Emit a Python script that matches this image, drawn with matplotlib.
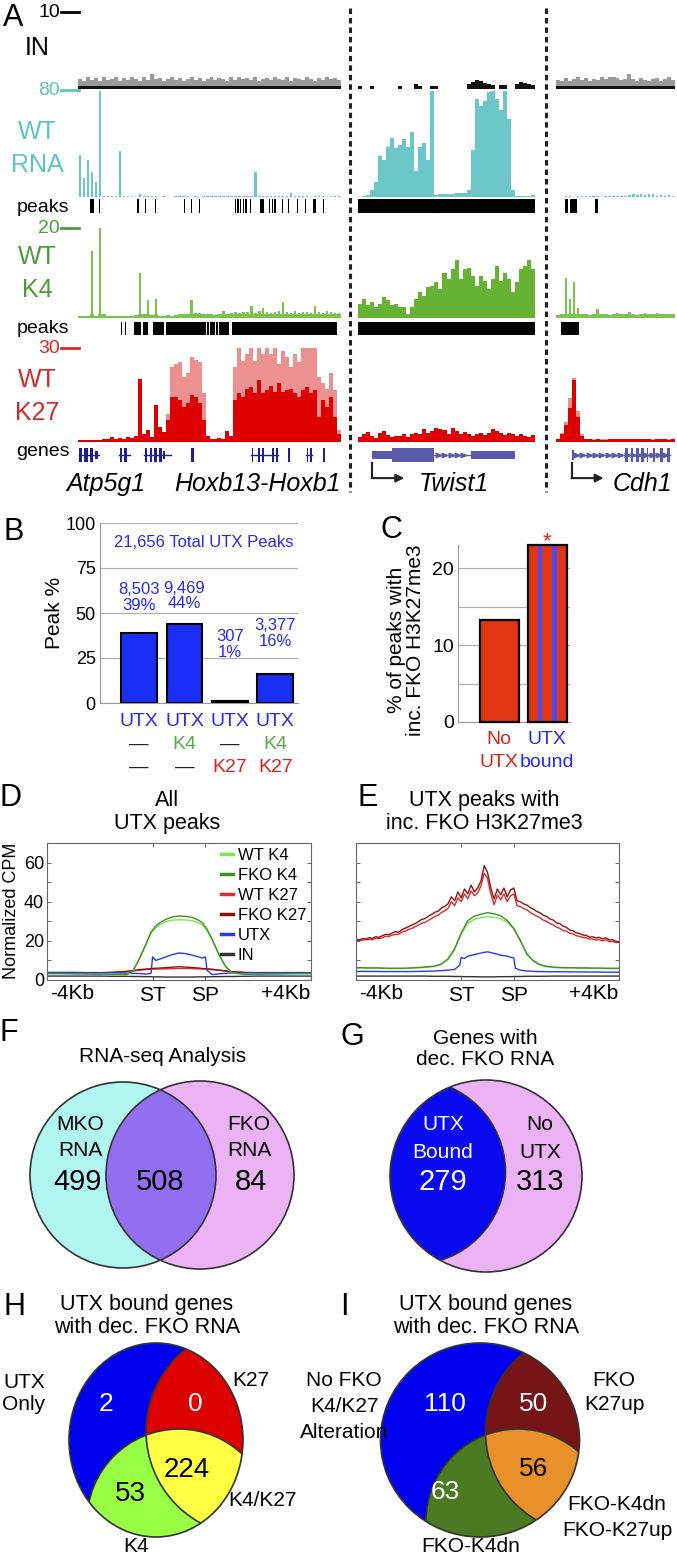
import numpy as np
import matplotlib.pyplot as plt
from matplotlib.patches import Circle, Ellipse, Polygon
from matplotlib.lines import Line2D

plt.rcParams['font.family'] = ['Liberation Sans', 'DejaVu Sans']

# ---------------- panel A data (signal per bin, three loci) ----------------
in_c1 = [1.3,1.1,1.5,1.2,1.4,1.0,1.6,1.2,1.3,1.5,1.1,1.4,1.2,1.6,1.3,1.0,1.5,1.2,2.0,1.3,
         1.4,1.1,1.3,1.5,1.2,1.4,1.1,1.3,1.6,1.2,1.4,1.0,1.3,1.5,1.2,1.4,1.3,1.1,1.5,1.2,
         1.6,1.3,1.4,1.2,1.5,1.1,1.3,1.4,1.2,1.6,1.3,1.2,1.5,1.1,1.4,1.3,1.2,1.5,1.3,1.1,
         1.4,1.2,1.5,1.3,1.4,1.2]
in_c2 = [0.4,0,0,0.4,0,0,0,0,0,0,0.4,0,0,0,0.6,0.4,0,0,0.4,0.4,0,0,0,0,0,0,0,0.6,0.9,1.2,
         1.0,0.8,0.7,0.5,0,0.5,0.5,0,0,0.6,0.9,0.8,0.7,0.5]
in_c3 = [1.2,1.0,1.4,1.1,1.3,1.5,1.2,1.4,1.1,1.3,1.2,1.5,1.3,1.6,1.5,1.4,1.2,1.3,1.9,1.3,
         1.1,1.4,1.2,1.0,1.3,1.4,1.1,1.3,1.5,1.2]

rna_c1 = [32,14,28,19,11,80,1,0.8,0.8,0.8,35,0.8,0.6,0.5,0,2.5,0.6,0.5,0.5,0.5,
          0,0.5,0,0,0.5,0.5,0.5,0.5,0,0.5,0,0.5,0.6,0.6,0.5,0.6,0.5,0.6,0.6,0.5,
          0.6,0.6,0.7,0.8,19,0.8,0.7,0.6,0.6,0.5,0.6,0.6,0.8,3,0.8,0.6,0.5,0.6,0,0.6,
          0.5,0.6,0,0.5,0.6,0.5]
rna_c2 = [0,0.5,1.3,5,11.5,30.6,28,38,44.6,37,39.5,44,38,49,20,37.7,40.8,28,80,1.3,
          2,2,2.2,2.5,2.8,3,3.2,5,35.7,74,69,72.6,79,80,74,66,80,58.6,5,0.5,
          0.5,0.5,0.5,1.5]
rna_c3 = [0,0,0.5,0.5,0,0.6,0.5,0.5,0.6,0.5,0.5,0,0.5,0.5,0.6,0.6,0.5,0.6,1.5,2.2,
          1.8,2.5,1.2,2.0,2.4,1.0,1.8,0.8,1.5,0.6]

k4_c1 = [0.4,0.4,0.5,14.8,0.5,21,0.8,0.4,0.4,0.4,0.5,0.4,0.4,0.5,0.6,10,0.8,4,0.6,4.2,
         0.5,0.4,0.6,0.5,0.7,0.8,0.9,1.0,3.9,1.1,1.1,0.9,0.8,1.0,0.7,0.8,1.5,1.0,1.2,1.3,
         1.1,1.4,1.3,2.6,1.2,1.5,2.2,1.3,1.2,1.4,1.5,3.5,1.3,1.2,1.5,1.2,1.4,1.3,1.1,2.6,
         1.4,1.2,1.5,1.3,1.1,1.2]
k4_c2 = [3.1,4.2,2.8,3.5,2.4,3.1,4.6,3.9,2.8,3.1,2.4,2.4,0.95,2.4,4.2,5.7,5.0,6.8,7.2,7.9,
         6.4,10,8.6,10.8,13,8.6,10.8,11.2,9.3,7.2,9.3,8.2,6.4,8.6,11.5,8.2,10,8.6,5.7,7.9,
         10.8,11.5,13,10.8]
k4_c3 = [0.6,1.0,9.0,4.2,8.0,2.2,0.9,0.8,0.7,0.8,2.0,0.9,0.8,0.7,0.8,1.2,0.8,0.9,1.3,0.8,
         0.7,0.9,1.1,0.8,0.9,1.2,0.8,0.9,1.0,0.8]

k27_c1 = [0.5,0.5,0.5,0.5,0.5,0.5,1,1,1.6,1,1.2,1,1.6,1.2,2,20,2.7,3.7,1.6,11.7,
          4.8,3.2,7,14.4,14.4,13.3,11.2,12.3,15,14.4,12.3,7,1.8,1.1,1.0,1.2,1.1,3.5,2,13.3,
          15.5,14.4,17,17.6,15.5,19.8,15.5,16.5,18,16,18.7,16,16.5,17,15.5,14.4,16.5,17.6,15.5,16.5,
          8,13.3,11.2,14.4,8,2.7]
k27_c1_light = [0.5,0.5,0.5,0.5,0.5,0.5,1,1,1.6,1,1.2,1,1.6,1.2,2,20,2.7,3.7,1.6,11.7,
                4.8,3.2,9,24,25,25.6,20.8,21.9,27.2,26.2,25.6,15.5,1.8,1.1,1.0,1.2,1.1,3.5,2,24,
                30,26,28,30,26,30,28,30,28,30,25,29,27,24,28,25.6,30,30,30,30,
                20.8,18.7,17,22,16.5,3.7]
k27_c2 = [1.5,2.5,3.2,2.0,1.2,2.8,3.5,2.2,1.5,2.0,1.8,2.4,1.6,2.5,3.0,2.4,4.0,2.8,3.5,4.6,
          4.2,3.8,2.6,4.4,3.6,2.6,3.2,2.4,2.0,2.6,3.0,2.2,2.8,4.2,3.4,2.8,2.2,3.0,2.4,2.0,
          2.6,1.8,1.6,2.2]
k27_c3 = [0.8,2.5,5.5,11,19.8,8,2,1.0,0.8,0.7,0.8,0.7,0.7,0.8,0.9,0.8,0.9,1.0,0.8,0.9,
          0.8,1.0,0.9,0.8,0.7,0.8,0.9,0.8,0.7,0.8]
k27_c3_light = [0.9,2.8,6.5,14,20.5,10,2.4,1.1,0.9,0.8,0.9,0.8,0.8,0.9,1.0,0.9,1.0,1.1,0.9,1.0,
                0.9,1.1,1.0,0.9,0.8,0.9,1.0,0.9,0.8,0.9]

# called peaks (start, end in bins)
rna_peaks_c1 = [(2.9,4.1),(5.3,5.6),(14.9,15.2),(16.75,17.1),(19.3,19.6),(26.5,26.8),(28.3,28.6),
                (30.4,30.7),(39.4,39.7),(40.0,40.4),(40.7,41.0),(41.4,41.7),(42.0,42.4),(43.2,43.5),
                (45.7,46.6),(48.0,48.3),(48.7,49.0),(49.3,49.7),(51.1,51.4),(52.6,52.9),(54.9,55.3),
                (56.9,57.3),(58.9,59.8),(61.5,61.8)]
rna_peaks_c2 = [(0,44)]
rna_peaks_c3 = [(2.3,3.1),(3.5,5.4),(9.8,10.5)]
k4_peaks_c1 = [(10.7,11.1),(11.7,12.1),(14.0,15.7),(16.3,17.6),(18.8,21.5),(22.2,32.0),(32.3,32.8),
               (33.2,34.3),(34.7,35.2),(35.5,37.9),(38.7,65.1)]
k4_peaks_c2 = [(0,44)]
k4_peaks_c3 = [(1.2,5.9)]

# gene models: introns (start, end) and exons (start, end, half height)
genes_c1_lines = [(0.2,5.2),(10.3,13.0),(16.6,23.4),(43.4,50.3),(57.2,58.8)]
genes_c1_exons = [(0.3,1.0,1),(1.5,2.5,1),(2.9,3.8,1),(4.2,5.0,0.6),(10.5,11.1,1),(11.6,12.4,1),
                  (16.8,17.4,1),(18.0,18.6,1),(19.1,19.8,1),(20.3,21.1,1),(21.4,21.9,0.6),
                  (28.4,29.1,1),(43.6,43.9,1),(45.1,45.7,1),(46.1,46.6,1),(48.6,49.2,1),(49.6,50.1,1),
                  (52.6,53.3,1),(57.4,57.8,1),(58.2,58.6,1),(61.5,62.1,1)]
genes_c2_lines = [(18.8,28.0)]
genes_c2_exons = [(3.5,8.5,0.6),(8.5,18.8,1),(28.0,39.0,0.6)]
genes_c3_lines = [(4.0,28.7)]
genes_c3_exons = [(4.0,4.6,0.7),(17.4,18.2,1),(18.9,19.5,1),(20.2,20.8,1),(21.4,22.3,1),
                  (22.9,23.3,1),(24.5,25.0,1),(26.2,27.1,1),(27.9,28.7,1)]
gene_names = ['Atp5g1', 'Hoxb13-Hoxb1', 'Twist1', 'Cdh1']

# ---------------- panel B / C ----------------
b_pct = [39, 44, 1, 16]
b_counts = ['8,503', '9,469', '307', '3,377']
b_label_y = [50, 51, 24, 30]
b_row2 = ['\u2014', 'K4', '\u2014', 'K4']
b_row3 = ['\u2014', '\u2014', 'K27', 'K27']
c_pct = [13.3, 23.0]

# ---------------- panel D / E profiles ----------------
x_d = [0, 0.25, 0.5, 0.75, 1.0, 1.25, 1.5, 1.625, 1.75, 1.875, 1.97, 2.0, 2.06, 2.125, 2.25, 2.375,
       2.5, 2.625, 2.75, 2.875, 2.94, 3.0, 3.03, 3.125, 3.25, 3.375, 3.5, 3.75, 4.0, 4.25, 4.5, 4.75, 5.0]
d_wt_k4 = [3.2,3.2,3.1,3.0,2.9,2.8,2.7,4.3,10.5,18,23.8,24.8,26.6,28,29.8,30.6,30.8,30.7,30.3,29.2,
           28.2,26.2,25.2,20.5,13,7,3.7,2.8,2.9,3.0,3.1,3.2,3.2]
d_fko_k4 = [3.3,3.3,3.2,3.1,3.0,2.9,2.8,4.5,11,18.5,24.5,25.5,27.5,29,31,32.2,32.7,32.5,32,30.5,
            29.3,27,26,21,13.5,7.2,3.8,2.9,3.0,3.1,3.2,3.3,3.3]
d_wt_k27 = [3.6,3.6,3.6,3.6,3.7,3.9,4.3,4.6,5.0,5.3,5.5,5.5,5.6,5.6,5.7,5.8,5.9,5.9,5.8,5.7,
            5.6,5.6,5.5,5.3,5.0,4.6,4.2,3.8,3.6,3.6,3.6,3.6,3.6]
d_fko_k27 = [3.6,3.6,3.6,3.6,3.7,3.9,4.4,4.8,5.3,5.6,5.8,5.9,6.0,6.1,6.3,6.6,6.8,6.6,6.4,6.1,
             5.9,5.8,5.7,5.5,5.1,4.7,4.3,3.9,3.7,3.6,3.6,3.6,3.6]
d_utx = [3.9,3.9,3.9,3.8,3.8,3.7,3.5,3.4,3.3,3.0,3.4,11.8,10.0,10.6,11.8,13.0,13.8,13.5,12.7,11.8,
         11.2,11.8,5.0,2.8,3.1,3.4,3.6,3.7,3.8,3.8,3.8,3.8,3.8]
d_in = [2.0,2.0,2.0,2.0,2.0,1.9,1.9,1.8,1.8,1.7,1.7,1.6,1.6,1.6,1.5,1.5,1.5,1.5,1.5,1.6,
        1.6,1.6,1.6,1.7,1.7,1.8,1.8,1.9,2.0,2.0,2.0,2.0,2.0]

e_wt_k4 = [6.1,6.1,6.0,6.0,5.9,5.8,5.8,5.8,5.9,6.1,6.3,6.6,6.9,8.0,10.5,15.6,23.4,29.0,31.0,31.8,
           32.4,32.0,31.2,29.6,26.0,20.0,13.0,9.6,7.6,6.8,6.4,6.2,6.1,6.1,6.0,6.0,5.9,5.9,5.8,5.8,5.8]
e_fko_k4 = [6.3,6.3,6.2,6.2,6.1,6.0,6.0,6.0,6.1,6.3,6.5,6.8,7.1,8.2,10.8,16.0,24.0,30.3,32.6,33.6,
            34.4,33.8,32.8,30.4,26.4,20.2,13.2,9.8,7.8,7.0,6.6,6.4,6.3,6.3,6.2,6.2,6.1,6.1,6.0,6.0,6.0]
e_fko_k27 = [20.8,20.4,21.2,20.9,21.6,21.3,22.1,21.8,22.6,23.3,23.1,24.0,24.7,24.4,25.8,26.5,27.3,28.1,28.8,29.9,
             31.0,31.4,32.6,33.5,34.6,35.2,36.8,37.6,39.0,42.5,40.5,45.0,42.0,46.5,44.0,48.5,45.0,47.0,50.5,58.5,
             55.0,47.0,41.5,46.5,43.5,47.0,42.5,46.0,47.0,40.5,40.0,38.9,38.3,37.0,36.2,35.0,34.4,33.0,32.5,31.2,
             30.6,29.2,28.8,27.5,26.9,25.6,25.2,24.1,23.8,23.0,22.8,21.9,22.1,21.5,21.8,21.0,21.6,20.5,20.6,19.8,19.5]
e_wt_k27 = [20.0,20.2,20.4,20.6,20.8,20.5,21.3,21.1,21.6,22.3,22.2,22.9,23.3,23.4,24.5,25.0,25.8,26.4,27.2,28.1,
            29.0,29.4,30.4,31.5,32.5,33.1,34.5,35.3,36.6,40.0,38.0,42.0,40.0,44.0,41.5,45.5,43.0,44.5,48.0,54.5,
            52.0,44.0,38.5,43.5,41.0,44.0,40.0,43.0,44.0,38.0,37.5,36.5,35.8,34.5,33.6,32.6,31.8,30.6,30.0,28.8,
            28.2,27.0,26.4,25.3,25.0,23.9,23.5,22.6,22.3,21.7,21.6,20.9,21.0,20.4,20.6,20.0,20.6,19.6,19.7,19.2,19.2]
e_utx = [4.4,4.4,4.3,4.3,4.3,4.4,4.6,4.8,5.0,5.4,7.5,11.5,11.0,12.2,13.0,13.8,14.4,13.6,12.7,12.2,
         11.6,11.2,6.0,5.0,4.6,4.4,4.3,4.2,4.2,4.1,4.1,4.0,4.0]
e_in = [2.0,2.0,2.0,2.0,2.0,2.0,1.9,1.9,1.9,1.8,1.8,1.8,1.7,1.7,1.7,1.6,1.6,1.6,1.7,1.7,
        1.7,1.8,1.8,1.8,1.9,1.9,1.9,2.0,2.0,2.0,2.0,2.0,2.0]

# ---------------- Venn counts ----------------
f_counts = [499, 508, 84]
g_counts = [279, 313]
h_counts = [2, 0, 53, 224]
i_counts = [110, 50, 63, 56]

# colours
C_RNA, C_K4, C_K27, C_K27L = '#6cc8c8', '#66b234', '#dd0000', '#ec9090'
T_RNA, T_K4, T_K27 = '#5cc4c4', '#4e9a3a', '#d42a2a'
BLUE_T = '#2a2ae6'

W, H = 677, 1557
fig = plt.figure(figsize=(W / 100, H / 100), dpi=100)
bg = fig.add_axes([0, 0, 1, 1])
bg.set_xlim(0, W)
bg.set_ylim(H, 0)
bg.axis('off')
bg.set_zorder(5)


def box(x0, y0, x1, y1):
    # axes from pixel box (y from top)
    return fig.add_axes([x0 / W, 1 - y1 / H, (x1 - x0) / W, (y1 - y0) / H], facecolor='none')


def txt(x, y, s, size=15, color='black', **kw):
    bg.text(x, y, s, fontsize=size, color=color, ha=kw.pop('ha', 'center'), va=kw.pop('va', 'center'), **kw)


COLS = [(78, 341, 66), (358, 535, 44), (556, 675, 30)]


def track(col, y0, y1, ymax):
    x0, x1, n = COLS[col]
    ax = box(x0, y0, x1, y1)
    ax.set_xlim(0, n)
    ax.set_ylim(0, ymax)
    ax.axis('off')
    return ax


def signal(ax, vals, color):
    x = np.arange(len(vals) + 1)
    y = np.append(vals, vals[-1])
    ax.fill_between(x, y, step='post', color=color, lw=0)


def spikes(ax, vals, color):
    # thin bars for sparse tracks
    ax.bar(np.arange(len(vals)) + 0.5, vals, width=0.6, color=color, lw=0)


# ---------------- panel A ----------------
rows = {'in': (12, 89, 10), 'rna': (91, 197, 80), 'rnap': (199, 213, 1),
        'k4': (228, 318, 20), 'k4p': (322, 335, 1), 'k27': (348, 442, 30)}

in_data = [in_c1, in_c2, in_c3]
rna_data = [rna_c1, rna_c2, rna_c3]
k4_data = [k4_c1, k4_c2, k4_c3]
k27_data = [k27_c1, k27_c2, k27_c3]
k27l_data = [k27_c1_light, k27_c2, k27_c3_light]
rnap_data = [rna_peaks_c1, rna_peaks_c2, rna_peaks_c3]
k4p_data = [k4_peaks_c1, k4_peaks_c2, k4_peaks_c3]
gl_data = [genes_c1_lines, genes_c2_lines, genes_c3_lines]
ge_data = [genes_c1_exons, genes_c2_exons, genes_c3_exons]

for c in range(3):
    ax = track(c, *rows['in'])
    if c == 1:
        signal(ax, in_data[c], '#111111')
    else:
        signal(ax, in_data[c], '#9a9a9a')
        signal(ax, np.minimum(in_data[c], 0.45), '#111111')

    ax = track(c, *rows['rna'])
    if c == 1:
        signal(ax, rna_data[c], C_RNA)
    else:
        spikes(ax, rna_data[c], C_RNA)

    ax = track(c, *rows['rnap'])
    ax.broken_barh([(s, e - s) for s, e in rnap_data[c]], (0, 1), facecolors='black')

    ax = track(c, *rows['k4'])
    if c == 1:
        signal(ax, k4_data[c], C_K4)
    else:
        signal(ax, np.minimum(k4_data[c], 1.0), '#7cc24e')
        spikes(ax, k4_data[c], '#7cc24e')

    ax = track(c, *rows['k4p'])
    ax.broken_barh([(s, e - s) for s, e in k4p_data[c]], (0, 1), facecolors='black')

    ax = track(c, *rows['k27'])
    signal(ax, k27l_data[c], C_K27L)
    signal(ax, k27_data[c], C_K27)

    ax = track(c, 448, 462, 1)
    ax.set_ylim(-1, 1)
    gcol = '#1f1f8f' if c == 0 else '#5a5aaa'
    for s, e in gl_data[c]:
        ax.plot([s, e], [0, 0], color=gcol, lw=1)
        if c > 0:
            xs = np.arange(s + 1, e - 0.5, 1.6)
            ax.plot(xs, np.zeros(len(xs)), ls='none', marker=r'$>$', ms=3.5, color=gcol)
    for s, e, h in ge_data[c]:
        ax.broken_barh([(s, e - s)], (-h, 2 * h), facecolors=gcol)
    if c > 0:
        # transcription start arrow
        s = ge_data[c][0][0]
        ax.plot([s, s], [-1.1, -3.3], color='#222', lw=1.5, clip_on=False)
        ax.annotate('', xy=(s + 8.0, -3.3), xytext=(s - 0.1, -3.3), annotation_clip=False,
                    arrowprops=dict(arrowstyle='-|>', color='#222', lw=1.5, mutation_scale=12,
                                    shrinkA=0, shrinkB=0))

# dotted separators
for xs in (350, 546):
    bg.plot([xs, xs], [8, 492], color='#222', lw=2.2, ls=(0, (1.8, 1.3)))

# scale marks and track labels
for y, s, col in [(12, '10', 'black'), (90, '80', T_RNA), (228, '20', T_K4), (348, '30', T_K27)]:
    txt(60, y, s, 14, col, ha='right')
    bg.plot([61, 79], [y, y], color=col, lw=2)
txt(3, 18, 'A', 22, ha='left')
txt(37, 48, 'IN', 18)
txt(37, 132, 'WT', 18, T_RNA)
txt(37, 165, 'RNA', 18, T_RNA)
txt(43, 207, 'peaks', 14)
txt(37, 257, 'WT', 18, T_K4)
txt(37, 290, 'K4', 18, T_K4)
txt(43, 328, 'peaks', 14)
txt(37, 380, 'WT', 18, T_K27)
txt(37, 413, 'K27', 18, T_K27)
txt(43, 451, 'genes', 14)
for x, s in zip([106, 257, 454, 642], gene_names):
    txt(x, 484, s, 18, style='italic')

# ---------------- panel B ----------------
axb = box(100, 523, 298, 703)
axb.bar(range(4), b_pct, width=0.79, color='#1a2ff5', edgecolor='black', linewidth=1.5, zorder=3)
axb.set_xlim(-0.86, 3.5)
axb.set_ylim(0, 100)
axb.set_yticks([0, 25, 50, 75, 100])
axb.yaxis.grid(True, color='#b0b0b0', lw=0.9)
axb.set_axisbelow(True)
axb.tick_params(length=0, labelsize=13, pad=3)
axb.set_xticks([])
for sp in ['top', 'right']:
    axb.spines[sp].set_visible(False)
for sp in ['left', 'bottom']:
    axb.spines[sp].set_color('#999999')
for i in range(4):
    axb.text(i, b_label_y[i], b_counts[i] + '\n' + str(b_pct[i]) + '%', ha='center', va='bottom',
             fontsize=12, color=BLUE_T, linespacing=1.05)
axb.text(1.43, 89, '21,656 Total UTX Peaks', ha='center', va='center', fontsize=12, color=BLUE_T)
tr = axb.get_xaxis_transform()
for i in range(4):
    axb.text(i, -0.105, 'UTX', transform=tr, ha='center', va='center', fontsize=14, color=BLUE_T)
    axb.text(i, -0.23, b_row2[i], transform=tr, ha='center', va='center', fontsize=14,
             color='#5aaa4a' if b_row2[i] == 'K4' else '#222')
    axb.text(i, -0.36, b_row3[i], transform=tr, ha='center', va='center', fontsize=14,
             color='#dd2222' if b_row3[i] == 'K27' else '#222')
txt(4, 532, 'B', 22, ha='left')
txt(55, 613, 'Peak %', 15, rotation=90)

# ---------------- panel C ----------------
axc = box(458, 545, 570, 722)
axc.bar([0, 1], c_pct, width=0.81, color='#e03412', zorder=3)
axc.bar([1 - 0.155, 1 + 0.145], [c_pct[1], c_pct[1]], width=0.09, color='#4a4aee', zorder=4)
axc.bar([0, 1], c_pct, width=0.81, fill=False, edgecolor='black', linewidth=1.6, zorder=5, clip_on=False)
axc.set_xlim(-0.86, 1.47)
axc.set_ylim(0, 23)
axc.set_yticks([0, 5, 10, 15, 20])
axc.set_yticklabels(['0', '', '10', '', '20'])
axc.yaxis.grid(True, color='#b0b0b0', lw=0.9)
axc.set_axisbelow(True)
axc.tick_params(length=0, labelsize=14, pad=3)
axc.set_xticks([])
for sp in ['top', 'right']:
    axc.spines[sp].set_visible(False)
for sp in ['left', 'bottom']:
    axc.spines[sp].set_color('#999999')
tr = axc.get_xaxis_transform()
axc.text(0, -0.10, 'No', transform=tr, ha='center', va='center', fontsize=14, color='#dd2222')
axc.text(0, -0.23, 'UTX', transform=tr, ha='center', va='center', fontsize=14, color='#dd2222')
axc.text(1, -0.10, 'UTX', transform=tr, ha='center', va='center', fontsize=14, color=BLUE_T)
axc.text(1, -0.23, 'bound', transform=tr, ha='center', va='center', fontsize=14, color=BLUE_T)
axc.text(1, 1.02, '*', transform=tr, ha='center', va='center', fontsize=16, color='#dd2222')
txt(380, 530, 'C', 22, ha='left')
txt(406, 640, '% of peaks with\ninc. FKO H3K27me3', 15, rotation=90, linespacing=1.05)

# ---------------- panels D and E ----------------
PROF = [('WT K4', '#7be84a'), ('FKO K4', '#3f8f2a'), ('WT K27', '#e02a2a'),
        ('FKO K27', '#8a1515'), ('UTX', '#2a3ae8'), ('IN', '#333333')]


def profile_axes(x0, x1, ylab):
    ax = box(x0, 843, x1, 980)
    ax.set_xlim(0, 5)
    ax.set_ylim(0, 70)
    ax.set_xticks([2, 3])
    ax.set_xticklabels(['ST', 'SP'])
    ax.set_yticks([0, 10, 20, 30, 40, 50, 60])
    ax.set_yticklabels(['0', '', '20', '', '40', '', '60'] if ylab else [])
    ax.tick_params(direction='in', top=True, right=True, length=3, width=0.7, color='#666')
    ax.tick_params(axis='x', labelsize=15, pad=4)
    ax.tick_params(axis='y', labelsize=13, pad=2)
    for sp in ax.spines.values():
        sp.set_color('#666666')
        sp.set_linewidth(0.8)
    ax.text(0.095, -0.03, '-4Kb', transform=ax.transAxes, ha='center', va='top', fontsize=15)
    ax.text(0.905, -0.03, '+4Kb', transform=ax.transAxes, ha='center', va='top', fontsize=15)
    return ax


axd = profile_axes(47, 311, True)
x_e41 = np.arange(41) * 0.125
x_e81 = np.arange(81) / 16
axd.plot(x_d, d_in, color=PROF[5][1], lw=1)
axd.plot(x_d, d_wt_k27, color=PROF[2][1], lw=1)
axd.plot(x_d, d_fko_k27, color=PROF[3][1], lw=1)
axd.plot(x_d, d_utx, color=PROF[4][1], lw=1)
axd.plot(x_d, d_wt_k4, color=PROF[0][1], lw=1)
axd.plot(x_d, d_fko_k4, color=PROF[1][1], lw=1)
handles = [Line2D([], [], color=c, lw=2.5) for _, c in PROF]
axd.legend(handles, [n for n, _ in PROF], loc='upper right', frameon=False, fontsize=12,
           handlelength=0.7, handletextpad=0.3, labelspacing=0.3, borderaxespad=0.2, borderpad=0.1)
txt(0, 798, 'D', 22, ha='left')
txt(167, 812, 'All\nUTX peaks', 15.5, linespacing=1.1)
txt(12, 911, 'Normalized CPM', 13, rotation=90)

axe = profile_axes(356, 619, False)
axe.plot(x_d, e_in, color=PROF[5][1], lw=1)
axe.plot(x_e81, e_wt_k27, color=PROF[2][1], lw=1)
axe.plot(x_e81, e_fko_k27, color=PROF[3][1], lw=1)
axe.plot(x_d, e_utx, color=PROF[4][1], lw=1)
axe.plot(x_e41, e_wt_k4, color=PROF[0][1], lw=1)
axe.plot(x_e41, e_fko_k4, color=PROF[1][1], lw=1)
txt(357, 798, 'E', 22, ha='left')
txt(484, 812, 'UTX peaks with\ninc. FKO H3K27me3', 15.5, linespacing=1.1)

# ---------------- Venn diagrams ----------------
EDGE = '#333333'


def circle_pts(cx, cy, r, n=600):
    t = np.linspace(0, 2 * np.pi, n, endpoint=False)
    return np.column_stack([cx + r * np.cos(t), cy + r * np.sin(t)])


def lens(c1, c2):
    p1 = circle_pts(*c1)
    p2 = circle_pts(*c2)
    in2 = np.hypot(p1[:, 0] - c2[0], p1[:, 1] - c2[1]) <= c2[2]
    in1 = np.hypot(p2[:, 0] - c1[0], p2[:, 1] - c1[1]) <= c1[2]
    pts = np.vstack([p1[in2], p2[in1]])
    m = pts.mean(axis=0)
    order = np.argsort(np.arctan2(pts[:, 1] - m[1], pts[:, 0] - m[0]))
    return pts[order]


# F
cl, cr = (123, 1175, 93), (200, 1175, 94)
bg.add_patch(Circle(cl[:2], cl[2], fc='#b0f5ef', ec='none'))
bg.add_patch(Circle(cr[:2], cr[2], fc='#ebb3f3', ec='none'))
bg.add_patch(Polygon(lens(cl, cr), closed=True, fc='#916ff0', ec='none'))
bg.add_patch(Circle(cl[:2], cl[2], fill=False, ec=EDGE, lw=1.2))
bg.add_patch(Circle(cr[:2], cr[2], fill=False, ec=EDGE, lw=1.2))
txt(0, 1033, 'F', 22, ha='left')
txt(163, 1057, 'RNA-seq Analysis', 15)
txt(80, 1124, 'MKO', 15)
txt(80, 1151, 'RNA', 15)
txt(249, 1124, 'FKO', 15)
txt(249, 1151, 'RNA', 15)
txt(78, 1182, str(f_counts[0]), 21)
txt(160, 1182, str(f_counts[1]), 21)
txt(251, 1182, str(f_counts[2]), 21)

# G
gp = Circle((486, 1176), 96, fc='#ebb3f3', ec='none')
bg.add_patch(gp)
gb = Circle((413, 1172), 92.5, fc='#0a0af0', ec='none')
bg.add_patch(gb)
gb.set_clip_path(gp)
gbe = Circle((413, 1172), 92.5, fill=False, ec=EDGE, lw=1.2)
bg.add_patch(gbe)
gbe.set_clip_path(gp)
bg.add_patch(Circle((486, 1176), 96, fill=False, ec=EDGE, lw=1.2))
txt(340, 1037, 'G', 22, ha='left')
txt(485, 1049, 'Genes with\ndec. FKO RNA', 15, linespacing=1.1)
txt(443, 1125, 'UTX', 15, 'white')
txt(443, 1152, 'Bound', 15, 'white')
txt(443, 1182, str(g_counts[0]), 21, 'white')
txt(540, 1125, 'No', 15)
txt(540, 1152, 'UTX', 15)
txt(540, 1182, str(g_counts[1]), 21)


def venn3(center, w, h, k27, k4, cols):
    ell = Ellipse(center, w, h, fc=cols[0], ec='none')
    bg.add_patch(ell)
    for circ, fc in [(k27, cols[1]), (k4, cols[2])]:
        p = Circle(circ[:2], circ[2], fc=fc, ec='none')
        bg.add_patch(p)
        p.set_clip_path(ell)
    p = Polygon(lens(k27, k4), closed=True, fc=cols[3], ec='none')
    bg.add_patch(p)
    p.set_clip_path(ell)
    for circ in (k27, k4):
        p = Circle(circ[:2], circ[2], fill=False, ec=EDGE, lw=1.2)
        bg.add_patch(p)
        p.set_clip_path(ell)
    bg.add_patch(Ellipse(center, w, h, fill=False, ec=EDGE, lw=1.2))


# H
venn3((156, 1440), 174, 194, (251, 1431, 105), (179, 1521, 92),
      ['#0000ee', '#dd0000', '#99ff44', '#ffff44'])
txt(4, 1307, 'H', 22, ha='left')
txt(147, 1316, 'UTX bound genes\nwith dec. FKO RNA', 15.5, linespacing=1.1)
txt(106, 1404, str(h_counts[0]), 19, 'white')
txt(195, 1404, str(h_counts[1]), 19, 'white')
txt(130, 1494, str(h_counts[2]), 20)
txt(187, 1470, str(h_counts[3]), 20)
txt(24, 1382, 'UTX', 15)
txt(24, 1405, 'Only', 15)
txt(251, 1381, 'K27', 15)
txt(262, 1500, 'K4/K27', 15)
txt(136, 1546, 'K4', 15)

# I
venn3((480, 1440), 199, 194, (587, 1432, 101.5), (518, 1521, 92),
      ['#0000ee', '#761418', '#4a7a22', '#e8902a'])
txt(340, 1307, 'I', 22, ha='left')
txt(486, 1316, 'UTX bound genes\nwith dec. FKO RNA', 15.5, linespacing=1.1)
txt(445, 1404, str(i_counts[0]), 19, 'white')
txt(534, 1404, str(i_counts[1]), 19, 'white')
txt(445, 1492, str(i_counts[2]), 19, 'white')
txt(534, 1469, str(i_counts[3]), 19)
txt(344, 1381, 'No FKO', 15)
txt(344, 1407, 'K4/K27', 15)
txt(344, 1432, 'Alteration', 15)
txt(614, 1381, 'FKO', 15)
txt(614, 1405, 'K27up', 15)
txt(617, 1504, 'FKO-K4dn', 15)
txt(617, 1530, 'FKO-K27up', 15)
txt(471, 1546, 'FKO-K4dn', 15)

fig.savefig('out.png', dpi=100)
